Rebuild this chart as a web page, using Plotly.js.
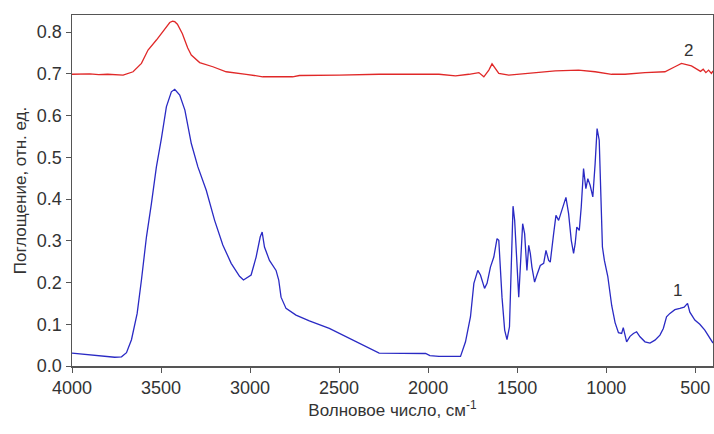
<!DOCTYPE html>
<html>
<head>
<meta charset="utf-8">
<script src="https://cdn.plot.ly/plotly-3.0.1.min.js"></script>
<style>html,body{margin:0;padding:0;background:#fff;}#chart{width:714px;height:434px;}</style>
</head>
<body>
<div id="chart"></div>
<script>
// Spectrum 1 (blue)
const wn1 = [4000,3900,3843,3760,3722,3694,3666,3634,3610,3582,3554,3526,3498,3470,3442,3423,3395,3366,3330,3293,3246,3199,3153,3106,3059,3037,2994,2966,2943,2932,2919,2891,2854,2839,2826,2798,2742,2667,2555,2425,2350,2275,2014,1990,1939,1818,1790,1762,1743,1721,1706,1683,1669,1650,1631,1613,1603,1585,1570,1557,1543,1532,1523,1514,1501,1491,1482,1469,1458,1450,1445,1435,1426,1417,1402,1389,1370,1351,1338,1323,1314,1295,1282,1267,1249,1226,1211,1196,1183,1174,1165,1151,1140,1127,1114,1103,1090,1075,1062,1051,1039,1030,1021,1010,991,969,950,931,913,904,894,885,866,847,829,810,782,754,726,698,679,661,642,614,586,562,543,530,502,474,446,409,400];
const abs1 = [0.031,0.027,0.024,0.021,0.022,0.032,0.063,0.126,0.206,0.309,0.389,0.477,0.545,0.621,0.657,0.663,0.649,0.613,0.533,0.477,0.421,0.349,0.290,0.246,0.215,0.206,0.218,0.261,0.309,0.321,0.285,0.253,0.229,0.206,0.165,0.138,0.122,0.108,0.090,0.062,0.046,0.031,0.030,0.025,0.023,0.023,0.058,0.118,0.198,0.229,0.218,0.186,0.198,0.237,0.261,0.305,0.301,0.165,0.086,0.063,0.094,0.229,0.383,0.349,0.229,0.165,0.237,0.341,0.317,0.253,0.229,0.289,0.270,0.237,0.201,0.218,0.241,0.246,0.277,0.253,0.249,0.317,0.361,0.349,0.373,0.404,0.365,0.301,0.270,0.293,0.333,0.325,0.381,0.473,0.425,0.449,0.433,0.405,0.485,0.569,0.541,0.429,0.285,0.253,0.215,0.145,0.104,0.080,0.078,0.092,0.074,0.058,0.071,0.078,0.082,0.070,0.058,0.055,0.062,0.074,0.090,0.118,0.126,0.135,0.138,0.141,0.150,0.129,0.110,0.100,0.086,0.062,0.055];

// Spectrum 2 (red)
const wn2 = [4000,3900,3850,3800,3713,3657,3610,3573,3526,3489,3470,3451,3435,3423,3408,3395,3380,3367,3350,3330,3283,3209,3134,3022,2929,2761,2723,2500,2275,1939,1846,1771,1715,1687,1659,1641,1622,1603,1547,1435,1286,1155,1062,969,894,782,670,614,577,521,490,470,455,440,425,409,400];
const abs2 = [0.699,0.700,0.698,0.699,0.697,0.705,0.725,0.757,0.781,0.801,0.812,0.823,0.826,0.825,0.819,0.809,0.796,0.781,0.762,0.745,0.727,0.717,0.705,0.699,0.693,0.693,0.696,0.697,0.699,0.699,0.695,0.699,0.703,0.693,0.709,0.724,0.713,0.701,0.697,0.701,0.707,0.709,0.705,0.699,0.699,0.703,0.705,0.717,0.725,0.719,0.712,0.706,0.711,0.703,0.709,0.701,0.707];

const xTicks = [4000,3500,3000,2500,2000,1500,1000,500];
const yTicks = [0,0.1,0.2,0.3,0.4,0.5,0.6,0.7,0.8];
const yTickText = ['0.0','0.1','0.2','0.3','0.4','0.5','0.6','0.7','0.8'];
const curveLabels = ['1','2'];
const labelX = [597,539];
const labelY = [0.18,0.755];

const axisColor = '#555555';
const fontFam = 'Liberation Sans, Arial, sans-serif';

const traces = [
  {x: wn1, y: abs1, mode: 'lines', line: {color: '#2a2ac4', width: 1.3}, hoverinfo: 'skip'},
  {x: wn2, y: abs2, mode: 'lines', line: {color: '#e02828', width: 1.3}, hoverinfo: 'skip'}
];

const layout = {
  width: 714, height: 434,
  margin: {l: 72, r: 1, t: 15, b: 68},
  paper_bgcolor: '#ffffff', plot_bgcolor: '#ffffff',
  showlegend: false,
  font: {family: fontFam, color: '#333333', size: 17},
  xaxis: {
    range: [4000, 400], tickvals: xTicks, ticktext: xTicks.map(String),
    showgrid: false, zeroline: false, showline: true, mirror: true,
    linecolor: axisColor, linewidth: 1.5, ticks: 'outside', ticklen: 5, tickcolor: axisColor,
    tickfont: {size: 18, color: '#333333', family: fontFam},
    title: {text: 'Волновое число, см<sup>-1</sup>', font: {size: 17, color: '#333333', family: fontFam}, standoff: 5}
  },
  yaxis: {
    range: [0, 0.841], tickvals: yTicks, ticktext: yTickText,
    showgrid: false, zeroline: false, showline: true, mirror: true,
    linecolor: axisColor, linewidth: 1.5, ticks: 'outside', ticklen: 5, tickcolor: axisColor,
    tickfont: {size: 18, color: '#333333', family: fontFam},
    title: {text: 'Поглощение, отн. ед.', font: {size: 17, color: '#333333', family: fontFam}, standoff: 6}
  },
  annotations: curveLabels.map((t, i) => ({
    x: labelX[i], y: labelY[i], xref: 'x', yref: 'y', text: t, showarrow: false,
    font: {size: 17, color: '#333333', family: fontFam}
  }))
};

Plotly.newPlot('chart', traces, layout, {displayModeBar: false, staticPlot: true});
</script>
</body>
</html>
